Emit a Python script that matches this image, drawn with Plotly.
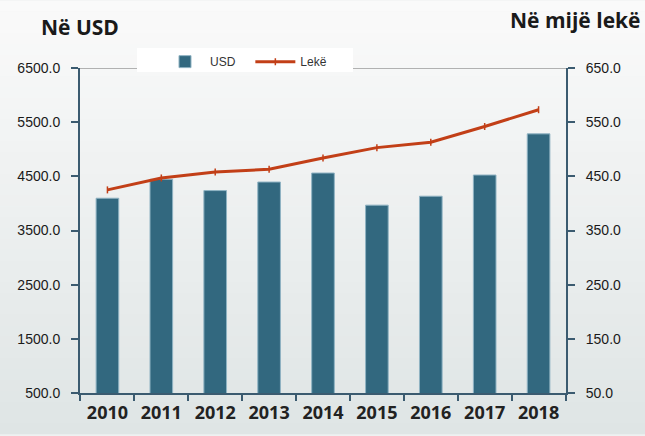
import plotly.graph_objects as go

years = ["2010", "2011", "2012", "2013", "2014", "2015", "2016", "2017", "2018"]
usd_values = [4096, 4445, 4237, 4395, 4561, 3968, 4133, 4524, 5284]
lek_values = [425, 447, 458, 463, 484, 503, 513, 542, 573]

W, H = 645, 436
L, R, T, B = 80, 79, 68, 41

def px_to_paper_x(px):
    return (px - L) / (W - L - R)

def px_to_paper_y(py):
    return (H - B - py) / (H - T - B)

fig = go.Figure()

fig.add_trace(go.Bar(
    x=years, y=usd_values, name="USD\u00a0\u00a0\u00a0",
    marker=dict(color="#32687f", line=dict(color="#8fb3c3", width=1)),
    width=0.42, yaxis="y",
))
fig.add_trace(go.Scatter(
    x=years, y=lek_values, name="Lekë", yaxis="y2",
    mode="lines+markers",
    line=dict(color="#c23f17", width=3),
    marker=dict(symbol="line-ns-open", size=5, line=dict(color="#c23f17", width=1.5)),
))

# background gradient bands
shapes = []
n = 40
c0 = (250, 250, 250)
c1 = (223, 229, 229)
for i in range(n):
    f = i / (n - 1)
    c = tuple(round(c0[k] + (c1[k] - c0[k]) * f) for k in range(3))
    shapes.append(dict(type="rect", xref="paper", yref="paper",
                       x0=px_to_paper_x(0), x1=px_to_paper_x(W),
                       y0=px_to_paper_y(H * (i + 1) / n + 0.5), y1=px_to_paper_y(H * i / n),
                       fillcolor="rgb(%d,%d,%d)" % c, line=dict(width=0), layer="below"))
# top gridline
shapes.append(dict(type="line", xref="paper", yref="y", x0=0, x1=1, y0=6500, y1=6500,
                   line=dict(color="#9a9a9a", width=1.3), layer="below"))
# legend white box
shapes.append(dict(type="rect", xref="paper", yref="paper",
                   x0=px_to_paper_x(137), x1=px_to_paper_x(353),
                   y0=px_to_paper_y(72), y1=px_to_paper_y(48),
                   fillcolor="white", line=dict(width=0), layer="above"))

axis_color = "#3b5b70"
tick_font = dict(family="Liberation Sans, Arial, sans-serif", size=14, color="#1a1a1a")

fig.update_layout(
    width=W, height=H,
    margin=dict(l=L, r=R, t=T, b=B, pad=0),
    paper_bgcolor="#eef1f1",
    plot_bgcolor="rgba(0,0,0,0)",
    shapes=shapes,
    bargap=0.58,
    showlegend=True,
    legend=dict(orientation="h", x=px_to_paper_x(160), y=px_to_paper_y(47),
                xanchor="left", yanchor="top",
                bgcolor="rgba(0,0,0,0)",
                font=dict(family="Liberation Sans, Arial, sans-serif", size=12, color="#333"),
                itemwidth=40, tracegroupgap=0),
    xaxis=dict(
        type="category",
        showline=True, linecolor=axis_color, linewidth=2,
        ticks="outside", tickson="boundaries", ticklen=6, tickcolor=axis_color, tickwidth=1.5,
        tickfont=dict(family="Open Sans, sans-serif", size=18, color="#222", weight="bold"),
        showgrid=False, zeroline=False,
        ticklabelstandoff=2,
    ),
    yaxis=dict(
        range=[500, 6500], tick0=500, dtick=1000, tickformat=".1f",
        showline=True, linecolor=axis_color, linewidth=2,
        ticks="outside", ticklen=7, tickcolor=axis_color, tickwidth=1.5,
        tickfont=tick_font, showgrid=False, zeroline=False,
        ticklabelstandoff=8,
    ),
    yaxis2=dict(
        range=[50, 650], tick0=50, dtick=100, tickformat=".1f",
        overlaying="y", side="right",
        showline=True, linecolor=axis_color, linewidth=2,
        ticks="outside", ticklen=7, tickcolor=axis_color, tickwidth=1.5,
        tickfont=tick_font, showgrid=False, zeroline=False,
        ticklabelstandoff=8,
    ),
    annotations=[
        dict(text="<b>Në USD</b>", xref="paper", yref="paper",
             x=px_to_paper_x(39), y=px_to_paper_y(11), xanchor="left", yanchor="top",
             showarrow=False, font=dict(family="Open Sans, sans-serif", size=21, color="#1a1a1a")),
        dict(text="<b>Në mijë lekë</b>", xref="paper", yref="paper",
             x=px_to_paper_x(642), y=px_to_paper_y(4), xanchor="right", yanchor="top",
             showarrow=False, font=dict(family="Open Sans, sans-serif", size=21, color="#1a1a1a")),
    ],
)

fig.write_html("out.html")
